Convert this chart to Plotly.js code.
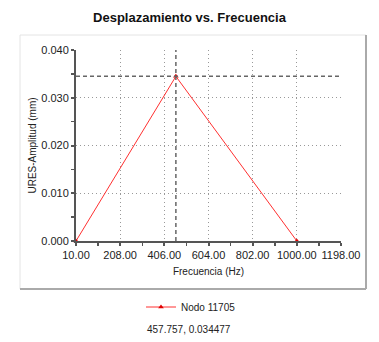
<!DOCTYPE html>
<html>
<head>
<meta charset="utf-8">
<script src="https://cdn.plot.ly/plotly-3.0.1.min.js"></script>
<style>html,body{margin:0;padding:0;background:#fff;}#chart{width:379px;height:342px;}</style>
</head>
<body>
<div id="chart"></div>
<script>
// Data
const frequency = [10, 457.757, 1000];
const amplitude = [0, 0.034477, 0];
const seriesName = "Nodo 11705";
const cursorX = [457.757];
const cursorY = [0.034477];
const xTickStart = 10;
const xTickStep = 198;
const xRange = [10, 1198];
const yRange = [0, 0.04];
const yTickStep = 0.01;
const chartTitle = "Desplazamiento vs. Frecuencia";
const xTitle = "Frecuencia (Hz)";
const yTitle = "URES-Amplitud (mm)";

const W = 379, H = 342;
const mL = 76, mR = 38, mT = 50, mB = 101;
const pw = W - mL - mR, ph = H - mT - mB;
const px = v => (v - mL) / pw;
const py = v => (H - mB - v) / ph;

const font = "Liberation Sans, Arial, sans-serif";

const trace = {
  x: frequency, y: amplitude, name: seriesName,
  type: "scatter", mode: "lines+markers",
  line: {color: "#ff3030", width: 1},
  marker: {symbol: "triangle-up", size: 5, color: "#e00000"},
  cliponaxis: false
};

const cursorLabel = cursorX[0].toFixed(3) + ", " + cursorY[0].toFixed(6);

const layout = {
  width: W, height: H,
  margin: {l: mL, r: mR, t: mT, b: mB},
  paper_bgcolor: "#fff", plot_bgcolor: "#fff",
  font: {family: font, size: 11, color: "#222"},
  title: {text: "<b>" + chartTitle + "</b>", font: {family: font, size: 13, color: "#111"}, x: 0.5, xanchor: "center", y: 1 - 17 / H, yanchor: "middle"},
  showlegend: true,
  legend: {orientation: "h", x: px(141), xanchor: "left", y: py(307), yanchor: "middle", font: {family: font, size: 10, color: "#222"}, bgcolor: "rgba(0,0,0,0)"},
  xaxis: {
    range: xRange, tick0: xTickStart, dtick: xTickStep, tickformat: ".2f",
    showgrid: true, gridcolor: "#999", griddash: "1px,3px", gridwidth: 1,
    showline: true, linecolor: "#555", linewidth: 2,
    ticks: "outside", ticklen: 3, tickcolor: "#555", tickwidth: 2,
    minor: {dtick: xTickStep / 2, tick0: xTickStart, ticks: "outside", ticklen: 3, tickcolor: "#555", tickwidth: 1.5, showgrid: false},
    zeroline: false, fixedrange: true,
    tickfont: {family: font, size: 11, color: "#222"},
    title: {text: xTitle, font: {family: font, size: 10, color: "#222"}, standoff: 8}
  },
  yaxis: {
    range: yRange, dtick: yTickStep, tickformat: ".3f",
    showgrid: true, gridcolor: "#999", griddash: "1px,3px", gridwidth: 1,
    showline: true, linecolor: "#555", linewidth: 2,
    ticks: "outside", ticklen: 3, tickcolor: "#555", tickwidth: 2,
    minor: {dtick: yTickStep / 2, ticks: "outside", ticklen: 3, tickcolor: "#555", tickwidth: 1.5, showgrid: false},
    zeroline: false, fixedrange: true,
    tickfont: {family: font, size: 11, color: "#222"},
    title: {text: yTitle, font: {family: font, size: 10, color: "#222"}, standoff: 3}
  },
  shapes: [
    {type: "rect", xref: "paper", yref: "paper", x0: px(20), x1: px(366), y0: py(289), y1: py(35), line: {color: "#e4e4e4", width: 1}, layer: "below"},
    {type: "line", xref: "paper", yref: "paper", x0: px(366), x1: px(366), y0: py(289), y1: py(35), line: {color: "#aaa", width: 2}},
    {type: "line", xref: "paper", yref: "paper", x0: px(20), x1: px(366), y0: py(289), y1: py(289), line: {color: "#aaa", width: 2}},
    {type: "line", xref: "x", yref: "paper", x0: cursorX[0], x1: cursorX[0], y0: 0, y1: 1, line: {color: "#666", width: 1.5, dash: "4px,3px"}},
    {type: "line", xref: "paper", yref: "y", x0: 0, x1: 1, y0: cursorY[0], y1: cursorY[0], line: {color: "#666", width: 1.5, dash: "4px,3px"}}
  ],
  annotations: [
    {text: cursorLabel, xref: "paper", yref: "paper", x: px(189), y: py(329), xanchor: "center", yanchor: "middle", showarrow: false, font: {family: font, size: 10, color: "#222"}}
  ]
};

Plotly.newPlot("chart", [trace], layout, {displayModeBar: false, staticPlot: true});
</script>
</body>
</html>
